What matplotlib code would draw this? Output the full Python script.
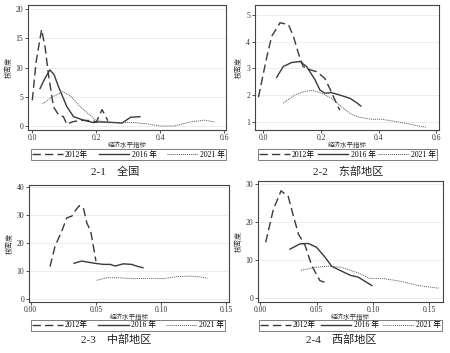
import matplotlib
matplotlib.use("Agg")
import matplotlib.pyplot as plt
from matplotlib.lines import Line2D

plt.rcParams['font.family'] = ['Liberation Serif', 'Noto Sans CJK SC']

# ---------------- data ----------------
# Panel 2-1 全国
p1_2012_x = [0.000, 0.012, 0.029, 0.040, 0.050, 0.066, 0.082, 0.097, 0.108, 0.124, 0.150, 0.190, 0.200, 0.218, 0.236]
p1_2012_y = [4.4, 11.0, 16.5, 13.5, 9.0, 3.3, 1.9, 1.6, 0.3, 0.7, 1.0, 0.9, 0.7, 2.8, 0.9]
p1_2016_x = [0.024, 0.040, 0.055, 0.068, 0.082, 0.108, 0.129, 0.160, 0.190, 0.210, 0.254, 0.280, 0.307, 0.336]
p1_2016_y = [6.4, 8.2, 9.6, 8.8, 6.7, 3.3, 1.6, 1.0, 0.6, 0.7, 0.6, 0.5, 1.5, 1.6]
p1_2021_x = [0.032, 0.060, 0.097, 0.120, 0.150, 0.200, 0.250, 0.317, 0.360, 0.400, 0.443, 0.495, 0.537, 0.569]
p1_2021_y = [3.8, 4.9, 5.9, 5.1, 3.3, 0.9, 0.6, 0.6, 0.35, 0.0, 0.0, 0.7, 1.0, 0.7]

# Panel 2-2 东部地区
p2_2012_x = [-0.017, -0.006, 0.012, 0.029, 0.058, 0.087, 0.104, 0.121, 0.138, 0.162, 0.185, 0.213, 0.230, 0.248, 0.265]
p2_2012_y = [1.93, 2.50, 3.43, 4.20, 4.70, 4.63, 4.20, 3.58, 3.07, 2.95, 2.88, 2.63, 2.26, 1.83, 1.45]
p2_2016_x = [0.046, 0.069, 0.098, 0.127, 0.150, 0.179, 0.196, 0.213, 0.236, 0.265, 0.300, 0.323, 0.338]
p2_2016_y = [2.67, 3.07, 3.22, 3.26, 3.07, 2.58, 2.20, 2.08, 2.10, 2.01, 1.89, 1.73, 1.60]
p2_2021_x = [0.069, 0.110, 0.144, 0.173, 0.202, 0.236, 0.271, 0.300, 0.329, 0.375, 0.410, 0.456, 0.502, 0.537, 0.565]
p2_2021_y = [1.71, 2.02, 2.15, 2.18, 2.08, 1.89, 1.58, 1.33, 1.19, 1.11, 1.11, 1.03, 0.94, 0.86, 0.81]

# Panel 2-3 中部地区
p3_2012_x = [0.0148, 0.0187, 0.0238, 0.0276, 0.0315, 0.0348, 0.0373, 0.0404, 0.0430, 0.0460, 0.0480, 0.0500]
p3_2012_y = [11.5, 18.9, 24.2, 29.0, 29.6, 32.0, 33.4, 32.6, 27.2, 24.2, 18.9, 13.5]
p3_2016_x = [0.0332, 0.0390, 0.0440, 0.0490, 0.0558, 0.0610, 0.0647, 0.0710, 0.0775, 0.0810, 0.0860]
p3_2016_y = [12.7, 13.5, 13.1, 12.7, 12.3, 12.3, 11.7, 12.5, 12.3, 11.7, 11.1]
p3_2021_x = [0.0506, 0.0583, 0.0660, 0.0788, 0.0916, 0.1018, 0.1120, 0.1220, 0.1300, 0.1355]
p3_2021_y = [6.6, 7.5, 7.5, 7.2, 7.3, 7.2, 7.9, 8.1, 7.8, 7.3]

# Panel 2-4 西部地区
p4_2012_x = [0.0050, 0.0118, 0.0186, 0.0250, 0.0295, 0.0340, 0.0400, 0.0457, 0.0530, 0.0605]
p4_2012_y = [14.7, 23.4, 28.3, 26.8, 21.7, 16.9, 13.8, 8.6, 4.6, 3.8]
p4_2016_x = [0.0265, 0.0354, 0.0428, 0.0500, 0.0575, 0.0634, 0.0708, 0.0800, 0.0870, 0.0930, 0.0990]
p4_2016_y = [12.9, 14.3, 14.4, 13.4, 10.8, 8.4, 7.3, 6.0, 5.5, 4.4, 3.3]
p4_2021_x = [0.0363, 0.0487, 0.0605, 0.0723, 0.0870, 0.0970, 0.1100, 0.1250, 0.1400, 0.1580]
p4_2021_y = [7.3, 8.1, 8.4, 8.1, 6.6, 5.2, 5.1, 4.4, 3.3, 2.6]

series_labels = ["2012年", "2016 年", "2021 年"]
titles = ["2-1　全国", "2-2　东部地区", "2-3　中部地区", "2-4　西部地区"]
xlabel = "经济水平指标"
ylabel = "核密度"

p1_xticks = [0.0, 0.2, 0.4, 0.6]; p1_yticks = [0, 5, 10, 15, 20]
p2_xticks = [0.0, 0.2, 0.4, 0.6]; p2_yticks = [1, 2, 3, 4, 5]
p3_xticks = [0.0, 0.05, 0.10, 0.15]; p3_yticks = [0, 10, 20, 30, 40]
p4_xticks = [0.0, 0.05, 0.10, 0.15]; p4_yticks = [0, 10, 20, 30]
p1_xticklabels = ["0.0", "0.2", "0.4", "0.6"]
p3_xticklabels = ["0.00", "0.05", "0.10", "0.15"]

# ---------------- layout ----------------
W, H = 450, 353
fig = plt.figure(figsize=(W / 100, H / 100), dpi=100)

def ax_rect(l, r, t, b):
    return [l / W, 1 - b / H, (r - l) / W, (b - t) / H]

panels = [
    dict(rect=ax_rect(28, 226, 5, 130), xlim=(-0.0134, 0.605), ylim=(-0.68, 20.7),
         data=[(p1_2012_x, p1_2012_y), (p1_2016_x, p1_2016_y), (p1_2021_x, p1_2021_y)],
         xt=p1_xticks, xtl=p1_xticklabels, yt=p1_yticks,
         leg=(31, 226, 149, 160), xl_y=144.5, title_xy=(115, 172)),
    dict(rect=ax_rect(255, 439, 5, 130), xlim=(-0.029, 0.609), ylim=(0.71, 5.36),
         data=[(p2_2012_x, p2_2012_y), (p2_2016_x, p2_2016_y), (p2_2021_x, p2_2021_y)],
         xt=p2_xticks, xtl=p1_xticklabels, yt=p2_yticks,
         leg=(258, 437, 149, 160), xl_y=144.5, title_xy=(348, 172)),
    dict(rect=ax_rect(29, 229, 185, 302), xlim=(-0.0013, 0.152), ylim=(-1.2, 40.8),
         data=[(p3_2012_x, p3_2012_y), (p3_2016_x, p3_2016_y), (p3_2021_x, p3_2021_y)],
         xt=p3_xticks, xtl=p3_xticklabels, yt=p3_yticks,
         leg=(31, 225, 320, 331), xl_y=316.3, title_xy=(116, 340)),
    dict(rect=ax_rect(258, 443, 181, 302), xlim=(-0.0018, 0.162), ylim=(-1.05, 30.9),
         data=[(p4_2012_x, p4_2012_y), (p4_2016_x, p4_2016_y), (p4_2021_x, p4_2021_y)],
         xt=p4_xticks, xtl=p3_xticklabels, yt=p4_yticks,
         leg=(259, 442, 320, 331), xl_y=316.3, title_xy=(341, 340)),
]

styles = [
    dict(linestyle=(0, (6, 3)), linewidth=1.0, color="#3a3a3a"),
    dict(linestyle="-", linewidth=1.0, color="#3a3a3a"),
    dict(linestyle=(0, (1, 1)), linewidth=0.7, color="#555555"),
]

for i, p in enumerate(panels):
    ax = fig.add_axes(p["rect"])
    for (x, y), st in zip(p["data"], styles):
        ax.plot(x, y, **st)
    ax.set_xlim(*p["xlim"])
    ax.set_ylim(*p["ylim"])
    ax.set_xticks(p["xt"])
    ax.set_xticklabels(p["xtl"])
    ax.set_yticks(p["yt"])
    ax.tick_params(labelsize=5.5, length=2, width=0.6, pad=1.5, colors="#333333")
    ax.tick_params(axis="x", pad=1.0)
    for s in ax.spines.values():
        s.set_linewidth(0.8)
        s.set_color("#444444")
    ax.yaxis.grid(True, color="#e6e6e6", linewidth=0.5)
    ax.set_axisbelow(True)
    ax.set_ylabel(ylabel, fontsize=5, labelpad=3, color="#333333")
    # x label
    cx = (p["rect"][0] + p["rect"][2] / 2)
    fig.text(cx, 1 - p["xl_y"] / H, xlabel, ha="center", va="center", fontsize=4.7, color="#333333")
    # legend
    l, r, t, b = p["leg"]
    handles = [Line2D([], [], **st) for st in styles]
    leg = fig.legend(handles, series_labels, loc="center",
                     bbox_to_anchor=(l / W, 1 - b / H, (r - l) / W, (b - t) / H),
                     mode="expand", ncol=3, fontsize=5.5, frameon=True, fancybox=False,
                     edgecolor="#444444", borderpad=0.15, handlelength=4.0, handletextpad=0.3,
                     columnspacing=1.0, borderaxespad=0)
    leg.get_frame().set_linewidth(0.6)
    # subtitle
    tx, ty = p["title_xy"]
    fig.text(tx / W, 1 - ty / H, titles[i], ha="center", va="center",
             fontsize=8, color="#222222")

fig.savefig("out.png", dpi=100)
